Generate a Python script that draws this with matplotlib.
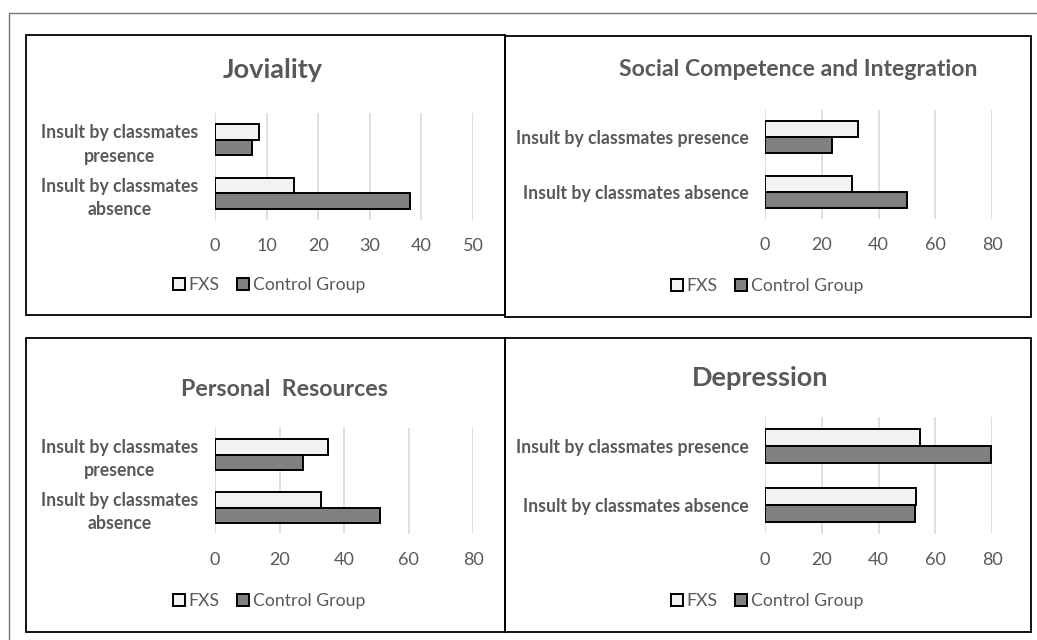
import matplotlib.pyplot as plt
from matplotlib.patches import Rectangle, Patch
import numpy as np

W, H = 1037, 640

titles = ['Joviality', 'Social Competence and Integration', 'Personal  Resources', 'Depression']
cats_wrapped = ['Insult by classmates\nabsence', 'Insult by classmates\npresence']
cats_flat = ['Insult by classmates absence', 'Insult by classmates presence']
series = ['FXS', 'Control Group']

# values ordered [absence, presence]
jov_fxs = [15.3, 8.5]
jov_ctrl = [37.8, 7.2]
soc_fxs = [30.8, 32.7]
soc_ctrl = [50.1, 23.7]
per_fxs = [32.9, 35.1]
per_ctrl = [51.2, 27.4]
dep_fxs = [53.2, 54.6]
dep_ctrl = [52.7, 79.5]

xticks_jov = [0, 10, 20, 30, 40, 50]
xticks_other = [0, 20, 40, 60, 80]

fxs_col = '#f2f2f2'
ctrl_col = '#808080'
txt_col = '#595959'
grid_col = '#d9d9d9'

plt.rcParams['font.family'] = ['Lato', 'DejaVu Sans']

fig = plt.figure(figsize=(W / 100, H / 100), dpi=100)


def frac(x1, y1, x2, y2):
    return [x1 / W, 1 - y2 / H, (x2 - x1) / W, (y2 - y1) / H]


# outer frame and panel boxes
fig.patches.append(Rectangle((9 / W, 1 - 650 / H), 1040 / W, (650 - 13) / H,
                             transform=fig.transFigure, fill=False, ec='#777777', lw=1))
for (x1, y1, x2, y2) in [(26, 35, 505, 315), (505, 36, 1031, 317),
                         (26, 338, 505, 632), (505, 338, 1031, 632)]:
    fig.patches.append(Rectangle((x1 / W, 1 - y2 / H), (x2 - x1) / W, (y2 - y1) / H,
                                 transform=fig.transFigure, fill=False, ec='black', lw=1.3))

panels = [
    dict(title=titles[0], fxs=jov_fxs, ctrl=jov_ctrl, cats=cats_wrapped, ticks=xticks_jov,
         box=(215, 113, 473, 220), tx=273, ty=70, tsize=19.5, lx=269, ly=285),
    dict(title=titles[1], fxs=soc_fxs, ctrl=soc_ctrl, cats=cats_flat, ticks=xticks_other,
         box=(765, 110, 992, 219), tx=798, ty=70, tsize=16.6, lx=767, ly=286),
    dict(title=titles[2], fxs=per_fxs, ctrl=per_ctrl, cats=cats_wrapped, ticks=xticks_other,
         box=(215, 428, 473, 534), tx=284, ty=389, tsize=16.7, lx=269, ly=601),
    dict(title=titles[3], fxs=dep_fxs, ctrl=dep_ctrl, cats=cats_flat, ticks=xticks_other,
         box=(765, 417, 992, 534), tx=760, ty=378, tsize=19.5, lx=767, ly=601),
]

h = 0.29
y = np.arange(2)
for p in panels:
    ax = fig.add_axes(frac(*p['box']))
    ax.barh(y + h / 2, p['fxs'], height=h, color=fxs_col, edgecolor='black', lw=1.4, zorder=3)
    ax.barh(y - h / 2, p['ctrl'], height=h, color=ctrl_col, edgecolor='black', lw=1.4, zorder=3)
    ax.set_xlim(0, p['ticks'][-1])
    ax.set_ylim(-0.5, 1.5)
    ax.set_xticks(p['ticks'])
    ax.set_yticks(y)
    ax.set_yticklabels(p['cats'], fontsize=12.7, fontweight='bold', color=txt_col,
                       multialignment='center', linespacing=1.45)
    ax.tick_params(axis='x', labelsize=13, colors=txt_col, length=0, pad=13)
    ax.tick_params(axis='y', length=0, pad=12)
    ax.grid(axis='x', color=grid_col, lw=1.2, zorder=0)
    for s in ax.spines.values():
        s.set_visible(False)
    fig.text(p['tx'] / W, 1 - p['ty'] / H, p['title'], ha='center', va='center',
             fontsize=p['tsize'], fontweight='bold', color=txt_col)
    handles = [Patch(facecolor=fxs_col, edgecolor='black', lw=1.4),
               Patch(facecolor=ctrl_col, edgecolor='black', lw=1.4)]
    leg = fig.legend(handles, series, loc='center', bbox_to_anchor=(p['lx'] / W, 1 - p['ly'] / H),
                     ncol=2, frameon=False, fontsize=12.7, handlelength=0.7, handleheight=0.7,
                     handletextpad=0.2, columnspacing=1.0)
    for t in leg.get_texts():
        t.set_color(txt_col)

fig.savefig('out.png', dpi=100)
